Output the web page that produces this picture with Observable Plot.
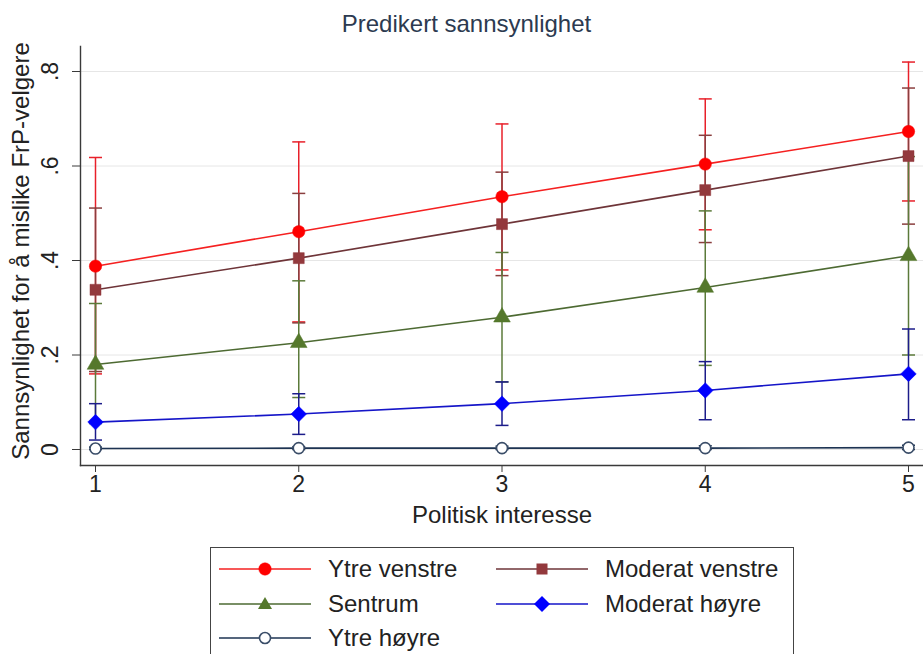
<!DOCTYPE html>
<html><head><meta charset="utf-8">
<script src="https://cdn.jsdelivr.net/npm/d3@7"></script>
<script src="https://cdn.jsdelivr.net/npm/@observablehq/plot@0.6"></script>
<style>
body{margin:0;background:#fff;font-family:"Liberation Sans",Arial,sans-serif;}
#wrap{position:relative;width:923px;height:654px;overflow:hidden;background:#fff}
#chart{position:absolute;left:0;top:0}
#title{position:absolute;left:0;width:933px;top:10px;text-align:center;font-size:24px;color:#2c3a50;line-height:28px}
#legend{position:absolute;left:210px;top:547px;width:584px;height:130px;border:1.3px solid #444;box-sizing:border-box;background:#fff}
.item{position:absolute;display:flex;align-items:center;font-size:24px;color:#222;height:30px;white-space:nowrap}
.item svg{margin-right:17px}
</style></head><body>
<div id="wrap"><div id="chart"></div><div id="title">Predikert sannsynlighet</div><div id="legend"></div></div>
<script>
// ---- data ----
const interesse = [1, 2, 3, 4, 5];
const xTicks = [1, 2, 3, 4, 5];
const xTickLabels = ["1", "2", "3", "4", "5"];
const yTicks = [0, 0.2, 0.4, 0.6, 0.8];
const yTickLabels = ["0", ".2", ".4", ".6", ".8"];
const groups = ["Ytre venstre", "Moderat venstre", "Sentrum", "Moderat høyre", "Ytre høyre"];

const ytreVenstre     = [0.388, 0.461, 0.535, 0.604, 0.673];
const ytreVenstreLo   = [0.160, 0.270, 0.380, 0.465, 0.526];
const ytreVenstreHi   = [0.618, 0.651, 0.689, 0.742, 0.820];

const moderatVenstre   = [0.338, 0.405, 0.477, 0.549, 0.621];
const moderatVenstreLo = [0.165, 0.268, 0.368, 0.438, 0.477];
const moderatVenstreHi = [0.511, 0.542, 0.587, 0.665, 0.765];

const sentrum   = [0.180, 0.226, 0.280, 0.343, 0.410];
const sentrumLo = [0.055, 0.110, 0.143, 0.178, 0.200];
const sentrumHi = [0.309, 0.357, 0.417, 0.505, 0.620];

const moderatHoyre   = [0.058, 0.075, 0.097, 0.125, 0.160];
const moderatHoyreLo = [0.020, 0.032, 0.051, 0.063, 0.063];
const moderatHoyreHi = [0.097, 0.118, 0.143, 0.186, 0.255];

const ytreHoyre   = [0.002, 0.003, 0.003, 0.003, 0.004];
const ytreHoyreLo = [0.000, 0.000, 0.000, 0.000, 0.000];
const ytreHoyreHi = [0.005, 0.006, 0.007, 0.008, 0.009];

const seriesValues = [
  [ytreVenstre, ytreVenstreLo, ytreVenstreHi],
  [moderatVenstre, moderatVenstreLo, moderatVenstreHi],
  [sentrum, sentrumLo, sentrumHi],
  [moderatHoyre, moderatHoyreLo, moderatHoyreHi],
  [ytreHoyre, ytreHoyreLo, ytreHoyreHi]
];

// ---- styles ----
const styles = [
  {line: "#f52020", bar: "#e8202a", fill: "#ff0000", stroke: "#ff0000", symbol: "circle", r: 6.2},
  {line: "#6e3438", bar: "#8a3e3e", fill: "#93393d", stroke: "#93393d", symbol: "square", r: 6.2},
  {line: "#4d6a32", bar: "#5b7a3a", fill: "#55782c", stroke: "#55782c", symbol: "triangle", r: 6.2},
  {line: "#1515c8", bar: "#1c1c8a", fill: "#0000ff", stroke: "#0000ff", symbol: "diamond2", r: 7},
  {line: "#1d3352", bar: "#1d3352", fill: "#ffffff", stroke: "#3a4d68", symbol: "circle", r: 5.5, sw: 1.6}
];

const rows = groups.map((g, k) => interesse.map((x, i) => ({
  group: g, x, y: seriesValues[k][0][i], lo: seriesValues[k][1][i], hi: seriesValues[k][2][i]
})));

const cap = {draw(ctx, size) { const w = Math.sqrt(size / Math.PI); ctx.moveTo(-w, 0); ctx.lineTo(w, 0); }};

const marks = [
  Plot.gridY(yTicks, {stroke: "#e6e6e6", strokeOpacity: 1, strokeWidth: 1})
];
rows.forEach((d, k) => {
  const s = styles[k];
  marks.push(Plot.ruleX(d, {x: "x", y1: "lo", y2: "hi", stroke: s.bar, strokeWidth: 1.5}));
  marks.push(Plot.dot(d, {x: "x", y: "lo", symbol: cap, r: 6.5, stroke: s.bar, strokeWidth: 1.5, fill: "none"}));
  marks.push(Plot.dot(d, {x: "x", y: "hi", symbol: cap, r: 6.5, stroke: s.bar, strokeWidth: 1.5, fill: "none"}));
});
rows.forEach((d, k) => {
  const s = styles[k];
  marks.push(Plot.line(d, {x: "x", y: "y", stroke: s.line, strokeWidth: 1.6}));
});
rows.forEach((d, k) => {
  const s = styles[k];
  marks.push(Plot.dot(d, {x: "x", y: "y", symbol: s.symbol, r: s.r, fill: s.fill, stroke: s.stroke, strokeWidth: s.sw || 0.5}));
});
marks.push(
  Plot.frame({anchor: "left", stroke: "#3a3a3a", strokeWidth: 1.4}),
  Plot.frame({anchor: "bottom", stroke: "#3a3a3a", strokeWidth: 1.4}),
  Plot.axisX({ticks: xTicks, tickFormat: d => xTickLabels[xTicks.indexOf(d)], tickSize: 7, tickPadding: 3, fontSize: 23, label: null, stroke: "#3a3a3a", color: "#222"}),
  Plot.axisY({ticks: yTicks, tickFormat: d => yTickLabels[yTicks.indexOf(d)], tickRotate: -90, tickSize: 8, tickPadding: 15, fontSize: 23, label: null, stroke: "#3a3a3a", color: "#222"}),
  Plot.text(["Politisk interesse"], {text: d => d, frameAnchor: "bottom", dy: 50, fontSize: 24, lineAnchor: "middle", fill: "#222"}),
  Plot.text(["Sannsynlighet for å mislike FrP-velgere"], {text: d => d, frameAnchor: "left", textAnchor: "middle", rotate: -90, dx: -59, dy: -5, fontSize: 24, lineAnchor: "middle", fill: "#222"})
);

const chart = Plot.plot({
  width: 923, height: 540,
  marginLeft: 80, marginRight: 0, marginTop: 46, marginBottom: 75,
  insetLeft: 15, insetRight: 15, insetTop: 25, insetBottom: 16,
  style: {fontFamily: "'Liberation Sans', Arial, sans-serif", background: "#fff"},
  x: {domain: [1, 5], type: "linear"},
  y: {domain: [0, 0.8], type: "linear"},
  marks
});
document.getElementById("chart").appendChild(chart);

// ---- legend ----
const legendPos = [[0, 0], [1, 0], [0, 1], [1, 1], [0, 2]];
const leg = document.getElementById("legend");
function markerSvg(s) {
  const cx = 46, cy = 10;
  let m = "";
  if (s.symbol === "circle") m = `<circle cx="${cx}" cy="${cy}" r="${s.r}" fill="${s.fill}" stroke="${s.stroke}" stroke-width="${s.sw || 0.5}"/>`;
  else if (s.symbol === "square") m = `<rect x="${cx - 5.5}" y="${cy - 5.5}" width="11" height="11" fill="${s.fill}"/>`;
  else if (s.symbol === "triangle") m = `<path d="M${cx},${cy - 7}L${cx + 7},${cy + 5}L${cx - 7},${cy + 5}Z" fill="${s.fill}"/>`;
  else m = `<path d="M${cx},${cy - 8}L${cx + 8},${cy}L${cx},${cy + 8}L${cx - 8},${cy}Z" fill="${s.fill}"/>`;
  return `<svg width="92" height="20"><line x1="0" x2="92" y1="${cy}" y2="${cy}" stroke="${s.line}" stroke-width="1.6"/>${m}</svg>`;
}
groups.forEach((g, k) => {
  const [c, r] = legendPos[k];
  const el = document.createElement("div");
  el.className = "item";
  el.style.left = (c === 0 ? 8 : 285) + "px";
  el.style.top = (6 + r * 34.5) + "px";
  el.innerHTML = markerSvg(styles[k]) + `<span>${g}</span>`;
  leg.appendChild(el);
});
</script>
</body></html>
